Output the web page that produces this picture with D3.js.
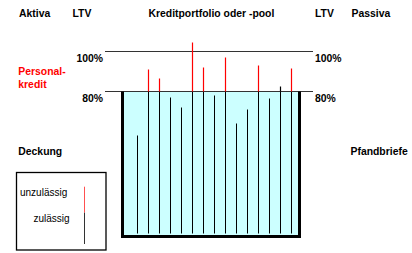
<!DOCTYPE html>
<html><head><meta charset="utf-8">
<script src="https://cdn.jsdelivr.net/npm/d3@7"></script>
<style>
html,body{margin:0;padding:0;background:#fff;}
svg{display:block;font-family:"Liberation Sans",Arial,sans-serif;}
</style></head>
<body><svg id="c" width="412" height="253"></svg>
<script>
// Data
const loans = ["K1","K2","K3","K4","K5","K6","K7","K8","K9","K10","K11","K12","K13","K14","K15"];
const ltv = [58, 91, 86.5, 77, 72, 104.5, 92, 78, 97, 64, 71, 93, 76.5, 82.5, 91.5];
const allowed = [true,false,false,true,true,false,false,true,false,true,true,false,true,true,false];
const ltvBase = 9;
const ltvLevels = [100, 80];
const levelLabels = ["100%", "80%"];
const coverLimit = 80;
const headers = ["Aktiva","LTV","Kreditportfolio oder -pool","LTV","Passiva"];
const legendLabels = ["unzulässig","zulässig"];

const svg = d3.select("#c");
const x = d3.scalePoint().domain(loans).range([136.7, 291]);
const y = d3.scaleLinear().domain([0, 100]).range([251.5, 51.5]);

const boxL = 122.5, boxR = 299.5, boxB = 236.5;
const bold = "bold";
const data = loans.map((k, i) => ({k, v: ltv[i], ok: allowed[i]}));
const px = d => Math.round(x(d.k)) + 0.5;

// box fill
svg.append("rect").attr("x", boxL).attr("y", y(coverLimit)).attr("width", boxR - boxL)
  .attr("height", boxB - y(coverLimit)).attr("fill", "#ccffff");

// level lines
svg.selectAll("line.lvl").data(ltvLevels).join("line").attr("class","lvl")
  .attr("x1", 105).attr("x2", 313).attr("y1", d => y(d)).attr("y2", d => y(d))
  .attr("stroke", "#333").attr("stroke-width", 1);

// bars: lower (covered) part
svg.append("g").selectAll("line").data(data).join("line")
  .attr("x1", px).attr("x2", px)
  .attr("y1", y(ltvBase)).attr("y2", d => y(Math.min(d.v, coverLimit)))
  .attr("stroke", "#000").attr("stroke-width", 1);
// bars: part above the limit
svg.append("g").selectAll("line").data(data.filter(d => d.v > coverLimit)).join("line")
  .attr("x1", px).attr("x2", px)
  .attr("y1", y(coverLimit)).attr("y2", d => y(d.v))
  .attr("stroke", d => d.ok ? "#000000" : "#ff0000").attr("stroke-width", 1.2);

// box border
svg.append("path").attr("d", `M${boxL},${y(coverLimit)}V${boxB}H${boxR}V${y(coverLimit)}`)
  .attr("fill", "none").attr("stroke", "#000").attr("stroke-width", 3);

// headers
const hx = [19, 72.5, 148.5, 315, 351.5];
svg.selectAll("text.h").data(headers).join("text").attr("class","h")
  .attr("x", (d,i) => hx[i]).attr("y", 16.7).attr("font-size", "10.4px").attr("font-weight", bold)
  .attr("fill", "#000").text(d => d);

// level labels
svg.selectAll("text.ll").data(ltvLevels).join("text").attr("class","ll")
  .attr("x", 103).attr("y", d => y(d) + 10.7).attr("text-anchor", "end")
  .attr("font-size", "10.4px").attr("font-weight", bold).text((d,i) => levelLabels[i]);
svg.selectAll("text.lr").data(ltvLevels).join("text").attr("class","lr")
  .attr("x", 315).attr("y", d => y(d) + 10.7).attr("text-anchor", "start")
  .attr("font-size", "10.4px").attr("font-weight", bold).text((d,i) => levelLabels[i]);

// side labels
svg.append("text").attr("x", 18.3).attr("y", 75).attr("font-size","10.4px").attr("font-weight",bold)
  .attr("fill","#ff0000").text("Personal-");
svg.append("text").attr("x", 18.3).attr("y", 88.3).attr("font-size","10.4px").attr("font-weight",bold)
  .attr("fill","#ff0000").text("kredit");
svg.append("text").attr("x", 18.3).attr("y", 155.2).attr("font-size","10.4px").attr("font-weight",bold)
  .text("Deckung");
svg.append("text").attr("x", 350.5).attr("y", 155.2).attr("font-size","10.4px").attr("font-weight",bold)
  .text("Pfandbriefe");

// legend
svg.append("rect").attr("x", 16.5).attr("y", 172.5).attr("width", 89.5).attr("height", 77.5)
  .attr("fill", "#fff").attr("stroke", "#000").attr("stroke-width", 1.3);
svg.append("text").attr("x", 20).attr("y", 195.8).attr("font-size","10px").text(legendLabels[0]);
svg.append("text").attr("x", 33.5).attr("y", 221.8).attr("font-size","10px").text(legendLabels[1]);
svg.append("line").attr("x1", 84.5).attr("x2", 84.5).attr("y1", 186.7).attr("y2", 212.7)
  .attr("stroke", "#ff5050").attr("stroke-width", 1);
svg.append("line").attr("x1", 84.5).attr("x2", 84.5).attr("y1", 212.7).attr("y2", 244)
  .attr("stroke", "#333").attr("stroke-width", 1);
</script></body></html>
